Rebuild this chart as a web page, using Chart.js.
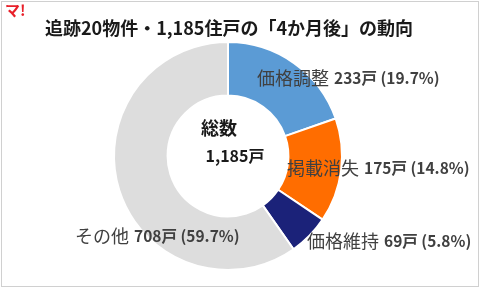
<!DOCTYPE html>
<html>
<head>
<meta charset="utf-8">
<script src="https://cdn.jsdelivr.net/npm/chart.js@4"></script>
<style>
  html, body { margin: 0; padding: 0; background: #fff; }
  #wrap { position: relative; width: 481px; height: 289px; }
</style>
</head>
<body>
<div id="wrap"><canvas id="grafico"></canvas></div>
<script>
const ctx = document.getElementById('grafico');

// dados do gráfico
const categorias = ['価格調整', '掲載消失', '価格維持', 'その他'];
const valores = [233, 175, 69, 708];
const percentuais = ['19.7%', '14.8%', '5.8%', '59.7%'];
const cores = ['#5B9BD5', '#FF6D00', '#1B2279', '#DDDDDD'];
const titulo = '追跡20物件・1,185住戸の「4か月後」の動向';
const centro = ['総数', '1,185戸'];

// posições dos rótulos (x, y do início do texto)
const posRotulos = [[257, 78], [287, 168], [307, 241], [75, 236]];

const fonteJP = '"Noto Sans CJK JP", "Noto Sans", sans-serif';

const textos = {
  id: 'textos',
  afterDraw(chart) {
    const c = chart.ctx;
    c.save();
    // moldura
    c.strokeStyle = '#D0D0D0';
    c.lineWidth = 1;
    c.strokeRect(1.5, 1.5, 477, 285);
    // marca
    c.fillStyle = '#E8202A';
    c.font = 'bold 15px ' + fonteJP;
    c.textBaseline = 'middle';
    c.fillText('マ!', 5, 10);
    // título
    c.fillStyle = '#1A1A1A';
    c.font = 'bold 18px ' + fonteJP;
    c.textAlign = 'center';
    c.fillText(titulo, 229, 28);
    // centro
    c.font = 'bold 18px ' + fonteJP;
    c.fillText(centro[0], 219, 128);
    c.font = 'bold 16px ' + fonteJP;
    c.fillText(centro[1], 235, 156);
    // rótulos
    c.textAlign = 'left';
    categorias.forEach((cat, i) => {
      const [x, y] = posRotulos[i];
      c.fillStyle = '#404040';
      c.font = '18px ' + fonteJP;
      c.fillText(cat, x, y);
      const w = c.measureText(cat).width + 5;
      c.font = 'bold 15.5px ' + fonteJP;
      c.fillText(valores[i] + '戸 (' + percentuais[i] + ')', x + w, y);
    });
    c.restore();
  }
};

new Chart(ctx, {
  type: 'doughnut',
  data: {
    labels: categorias,
    datasets: [{
      data: valores,
      backgroundColor: cores,
      borderColor: '#FFFFFF',
      borderWidth: 2,
      hoverOffset: 0
    }]
  },
  options: {
    responsive: true,
    maintainAspectRatio: false,
    animation: false,
    cutout: '53%',
    layout: {
      padding: { top: 41, bottom: 18, left: 112, right: 137 }
    },
    plugins: {
      legend: { display: false },
      tooltip: { enabled: false },
      title: { display: false }
    }
  },
  plugins: [textos]
});
</script>
</body>
</html>
